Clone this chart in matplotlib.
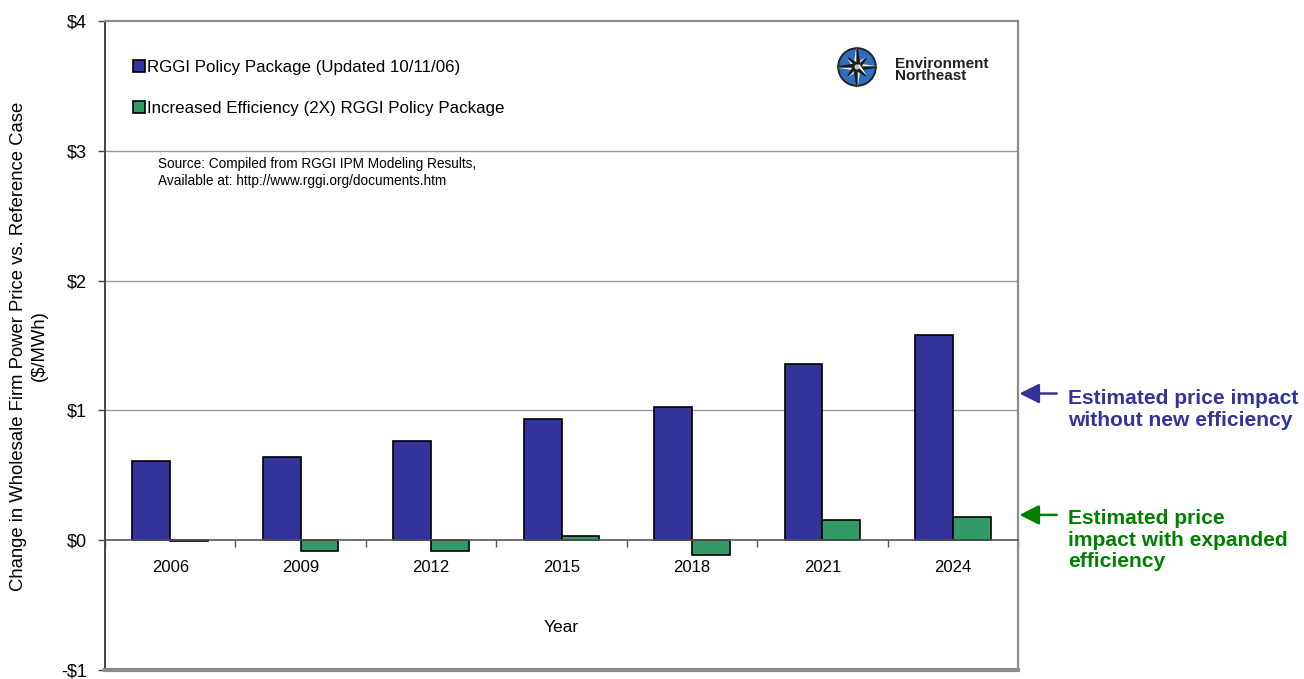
import numpy as np
import matplotlib.pyplot as plt
from matplotlib.patches import Circle, Polygon

plt.rcParams['font.family'] = ['Liberation Sans', 'DejaVu Sans']

years = ['2006', '2009', '2012', '2015', '2018', '2021', '2024']
rggi = [0.61, 0.64, 0.765, 0.93, 1.025, 1.355, 1.58]
rggi_eff = [-0.005, -0.08, -0.08, 0.035, -0.115, 0.155, 0.18]

blue = '#333399'
green = '#339966'
frame_gray = '#8c8c8c'

fig = plt.figure(figsize=(13.04, 6.79), dpi=100)
ax = fig.add_axes([105/1304, 1 - 670/679, 913/1304, 649/679])

x = np.arange(len(years))
w = 0.29
ax.bar(x - w/2, rggi, w, color=blue, edgecolor='black', linewidth=1.2, zorder=3,
       label='RGGI Policy Package (Updated 10/11/06)')
ax.bar(x + w/2, rggi_eff, w, color=green, edgecolor='black', linewidth=1.2, zorder=3,
       label='Increased Efficiency (2X) RGGI Policy Package')

ax.set_xlim(-0.5, len(years) - 0.5)
ax.set_ylim(-1, 4)
ax.set_yticks([-1, 0, 1, 2, 3, 4])
ax.set_yticklabels(['-$1', '$0', '$1', '$2', '$3', '$4'], fontsize=13)
ax.tick_params(axis='y', direction='out', length=5, width=1, color='#444444', pad=8)

# gridlines
for g in [1, 2, 3]:
    ax.axhline(g, color='#999999', linewidth=1, zorder=1)

# frame
for s in ['top', 'right']:
    ax.spines[s].set_color(frame_gray)
    ax.spines[s].set_linewidth(1.6)
ax.spines['left'].set_color('#444444')
ax.spines['left'].set_linewidth(1.4)
ax.spines['bottom'].set_position(('data', 0))
ax.spines['bottom'].set_color('#555555')
ax.spines['bottom'].set_linewidth(1.2)
ax.spines['bottom'].set_zorder(4)
ax.axhline(-1, color=frame_gray, linewidth=3, clip_on=False, zorder=5)

ax.set_xticks(x)
ax.set_xticklabels(years, fontsize=12)
ax.set_xticks(np.arange(-0.5, len(years)), minor=True)
ax.tick_params(axis='x', which='major', length=0, pad=14)
ax.tick_params(axis='x', which='minor', direction='out', length=5, width=1, color='#555555')

ax.text(0.5, 0.066, 'Year', transform=ax.transAxes, ha='center', va='center', fontsize=12.5)
fig.text(29/1304, 1 - 346/679,
         'Change in Wholesale Firm Power Price vs. Reference Case\n($/MWh)',
         rotation=90, ha='center', va='center', fontsize=13.3, linespacing=1.25)

leg = ax.legend(loc='upper left', bbox_to_anchor=(0.014, 0.963), frameon=False,
                fontsize=12.2, handlelength=0.7, handleheight=0.7,
                handletextpad=0.15, labelspacing=1.5)

ax.text(0.058, 0.79, 'Source: Compiled from RGGI IPM Modeling Results,\nAvailable at: http://www.rggi.org/documents.htm',
        transform=ax.transAxes, fontsize=9.8, va='top', linespacing=1.25)

# logo
lax = fig.add_axes([836/1304, 1 - 89/679, 42/1304, 44/679])
lax.set_xlim(-1.1, 1.1)
lax.set_ylim(-1.1, 1.1)
lax.set_aspect('equal')
lax.axis('off')
lax.add_patch(Circle((0, 0), 1.0, color='#222222'))
lax.add_patch(Circle((0, 0), 0.9, color='#2a6fc0'))
for ang in np.arange(0, 360, 45):
    a = np.deg2rad(ang)
    r = 1.05 if ang % 90 == 0 else 0.7
    tip = (r*np.cos(a), r*np.sin(a))
    l = (0.16*np.cos(a + np.pi/2), 0.16*np.sin(a + np.pi/2))
    rr = (0.16*np.cos(a - np.pi/2), 0.16*np.sin(a - np.pi/2))
    lax.add_patch(Polygon([tip, l, (0, 0)], color='#f0f0f0'))
    lax.add_patch(Polygon([tip, rr, (0, 0)], color='#1a1a1a'))
lax.add_patch(Circle((0, 0), 0.1, color='#c0c0c0'))
fig.text(895/1304, 1 - 70/679, 'Environment\nNortheast', fontsize=11, fontweight='bold',
         color='#222222', va='center', ha='left', linespacing=0.85)

# right-side annotations
for yv, col in [(1.13, blue), (0.195, '#008000')]:
    ax.annotate('', xy=(0.9985, yv), xycoords=('axes fraction', 'data'),
                xytext=(1.0455, yv), textcoords=('axes fraction', 'data'),
                arrowprops=dict(arrowstyle='-|>,head_length=0.6,head_width=0.3',
                                color=col, lw=1.8, mutation_scale=20),
                annotation_clip=False)
fig.text(1068/1304, 1 - 389/679, 'Estimated price impact\nwithout new efficiency',
         color=blue, fontsize=15.1, fontweight='bold', va='top', ha='left',
         linespacing=1.17)
fig.text(1068/1304, 1 - 509/679, 'Estimated price\nimpact with expanded\nefficiency',
         color='#008000', fontsize=15.1, fontweight='bold', va='top', ha='left',
         linespacing=1.17)

fig.savefig('out.png', dpi=100)
